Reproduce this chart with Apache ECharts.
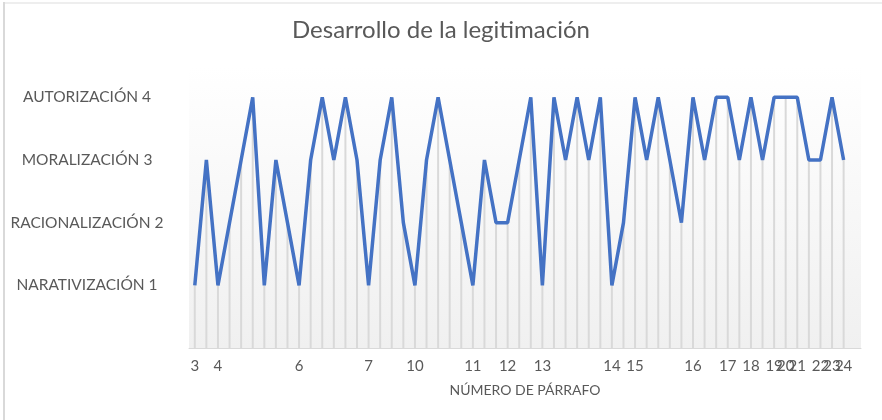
<!DOCTYPE html>
<html>
<head>
<meta charset="utf-8">
<script src="https://cdn.jsdelivr.net/npm/echarts@6/dist/echarts.min.js"></script>
<style>
html,body{margin:0;padding:0;background:#fff;}
#c{width:882px;height:420px;}
</style>
</head>
<body>
<div id="c"></div>
<script>
const titleText = 'Desarrollo de la legitimación';
const xAxisName = 'NÚMERO DE PÁRRAFO';
const tickLabels = ['3','','4','','','','','','','6','','','','','','7','','','','10','','','','','11','','','12','','','13','','','','','','14','','15','','','','','16','','','17','','18','','19','20','21','','22','23','24',''];
const values = [1,3,1,2,3,4,1,3,2,1, 3,4,3,4,3,1,3,4,2,1, 3,4,3,2,1,3,2,2,3,4, 1,4,3,4,3,4,1,2,4,3, 4,3,2,4,3,4,4,3,4,3, 4,4,4,3,3,4,3, null];
const levelNames = {1:'NARATIVIZACIÓN 1', 2:'RACIONALIZACIÓN 2', 3:'MORALIZACIÓN 3', 4:'AUTORIZACIÓN 4'};

const chart = echarts.init(document.getElementById('c'), null, {renderer:'canvas'});
const font = 'Lato, "Open Sans", sans-serif';
chart.setOption({
  animation: false,
  backgroundColor: '#fff',
  title: {
    text: titleText, left: 'center', top: 13,
    textStyle: {fontFamily: font, fontSize: 24, fontWeight: 'normal', color: '#595959'}
  },
  grid: {
    left: 189, right: 21, top: 66, bottom: 72,
    show: true, borderWidth: 0,
    backgroundColor: {type:'linear', x:0, y:0, x2:0, y2:1, colorStops:[{offset:0,color:'#ffffff'},{offset:1,color:'#f0f0f0'}]}
  },
  xAxis: {
    type: 'category', data: tickLabels, boundaryGap: true,
    name: xAxisName, nameLocation: 'middle', nameGap: 35,
    nameTextStyle: {fontFamily: font, fontSize: 14, color: '#595959'},
    axisLine: {show: true, lineStyle: {color: '#d9d9d9', width: 1}},
    axisTick: {show: false},
    axisLabel: {interval: 0, margin: 11, fontFamily: font, fontSize: 15, color: '#595959'},
    splitLine: {show: false}
  },
  yAxis: {
    type: 'value', min: 0, max: 4.5, interval: 1,
    axisLine: {show: false}, axisTick: {show: false}, splitLine: {show: false},
    axisLabel: {
      align: 'center', margin: 102, fontFamily: font, fontSize: 15.5, color: '#595959',
      formatter: v => levelNames[v] || ''
    }
  },
  graphic: [
    {type:'rect', shape:{x:3, y:2, width:2, height:418}, style:{fill:'#d9d9d9'}, silent:true},
    {type:'rect', shape:{x:5, y:2, width:877, height:2}, style:{fill:'#eeeeee'}, silent:true}
  ],
  series: [
    {type:'bar', data: values, barWidth: 2, itemStyle:{color:'#d9d9d9'}, silent:true, z:1},
    {type:'line', data: values, symbol:'none', showSymbol:false, lineStyle:{color:'#4472C4', width:3.5}, z:3, silent:true}
  ]
});
</script>
</body>
</html>
